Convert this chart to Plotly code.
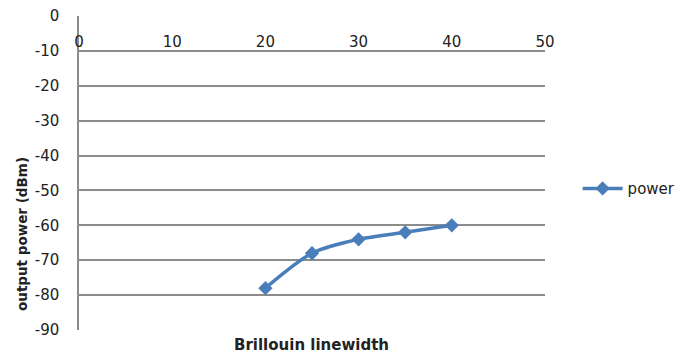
import plotly.graph_objects as go

# Output power versus Brillouin linewidth
linewidth = [20, 25, 30, 35, 40]
power_dbm = [-78, -68, -64, -62, -60]
series_name = "power"

x_ticks = [0, 10, 20, 30, 40, 50]
y_ticks = [0, -10, -20, -30, -40, -50, -60, -70, -80, -90]
y_tick_text = [str(v) for v in y_ticks]  # plain hyphen minus signs

blue = "#4A7EBB"
grid = "#8c8c8c"
text_col = "#222222"
font_family = "DejaVu Sans, Verdana, sans-serif"

fig = go.Figure()
fig.add_trace(go.Scatter(
    x=linewidth, y=power_dbm, name=series_name,
    mode="lines+markers",
    line=dict(color=blue, width=3.5, shape="spline", smoothing=0.8),
    marker=dict(symbol="diamond", size=11, color=blue),
))

plot_w, plot_h = 466, 314

fig.update_layout(
    width=680, height=353,
    margin=dict(l=79, r=135, t=16, b=23, autoexpand=False),
    paper_bgcolor="white", plot_bgcolor="white",
    font=dict(family=font_family, size=15, color=text_col),
    showlegend=True,
    legend=dict(x=1.07, y=0.45, xanchor="left", yanchor="middle",
                itemwidth=40,
                font=dict(size=15, color=text_col), bgcolor="rgba(0,0,0,0)"),
    # x labels sit just under the y=0 line (the axis crosses at the top)
    xaxis=dict(
        range=[0, 50], tickvals=x_ticks,
        anchor="free", position=1, side="bottom",
        ticks="", ticklabelstandoff=15, automargin=False,
        showgrid=False, zeroline=False, showline=False,
    ),
    yaxis=dict(
        range=[-90, 0], tickvals=y_ticks, ticktext=y_tick_text,
        showgrid=True, gridcolor=grid, gridwidth=1.5,
        zeroline=False, ticks="", ticklabelstandoff=15, automargin=False,
        showline=True, linecolor=grid, linewidth=1.5,
    ),
    annotations=[
        dict(text="<b>Brillouin linewidth</b>", x=(311 - 79) / plot_w,
             y=-(345 - 330) / plot_h,
             xref="paper", yref="paper", xanchor="center", yanchor="middle",
             showarrow=False, font=dict(size=15, color=text_col)),
        dict(text="<b>output power (dBm)</b>", x=(22 - 79) / plot_w,
             y=(330 - 234) / plot_h,
             xref="paper", yref="paper", xanchor="center", yanchor="middle",
             showarrow=False, textangle=-90, font=dict(size=13.5, color=text_col)),
    ],
)

fig.write_html("out.html")
